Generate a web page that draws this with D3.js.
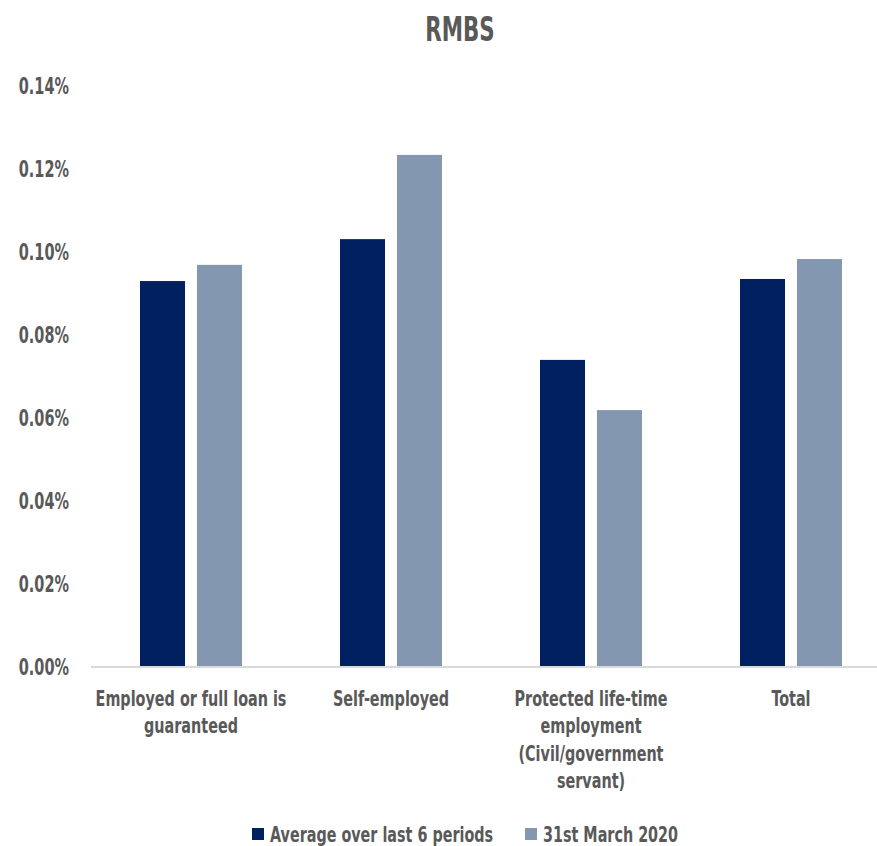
<!DOCTYPE html>
<html>
<head>
<meta charset="utf-8">
<script src="https://cdn.jsdelivr.net/npm/d3@7"></script>
<style>
  body { margin: 0; background: #fff; }
  svg text { font-family: "DejaVu Sans Condensed", "DejaVu Sans", sans-serif; font-weight: bold; fill: #595959; }
</style>
</head>
<body>
<svg></svg>
<script>
const WIDTH = 877;
const HEIGHT = 846;
const MARGINS = { left: 91, top: 86, right: -14, bottom: 179 };
const graphWidth = WIDTH - MARGINS.left - MARGINS.right;
const graphHeight = HEIGHT - MARGINS.top - MARGINS.bottom;

const categories = [
  ['Employed or full loan is', 'guaranteed'],
  ['Self-employed'],
  ['Protected life-time', 'employment', '(Civil/government', 'servant)'],
  ['Total']
];
const seriesNames = ['Average over last 6 periods', '31st March 2020'];
const average = [0.0930, 0.1031, 0.0740, 0.0935];
const march2020 = [0.0969, 0.1234, 0.0619, 0.0983];
const yTicks = [0, 0.02, 0.04, 0.06, 0.08, 0.10, 0.12, 0.14];
const COLORS = ['#002060', '#8497b0'];

const svg = d3.select('svg').attr('width', WIDTH).attr('height', HEIGHT);

// narrow, tall glyphs: squeeze DejaVu horizontally
svg.append('text')
  .attr('transform', 'translate(460, 41) scale(0.7, 1)')
  .attr('text-anchor', 'middle')
  .style('font-size', '34px')
  .text('RMBS');

const graph = svg.append('g')
  .attr('transform', `translate(${MARGINS.left}, ${MARGINS.top})`);

const y = d3.scaleLinear().domain([0, 0.14]).range([graphHeight, 0]);
const x0 = d3.scaleBand()
  .domain(d3.range(categories.length))
  .range([0, graphWidth])
  .paddingInner(0.49)
  .paddingOuter(0.245);
const x1 = d3.scaleBand()
  .domain(seriesNames)
  .range([0, x0.bandwidth()])
  .paddingInner(0.21);

const yAxis = d3.axisLeft(y)
  .tickValues(yTicks)
  .tickSize(0)
  .tickFormat((d) => d.toFixed(2) + '%');
const yAxisGroup = graph.append('g').call(yAxis);
yAxisGroup.select('.domain').remove();
yAxisGroup.selectAll('text')
  .attr('x', 0)
  .attr('transform', 'translate(-22, 0) scale(0.7, 1)')
  .style('font-size', '23px');

const rows = categories.map((c, i) => ({ i, values: [average[i], march2020[i]] }));

graph.selectAll('g.cat')
  .data(rows)
  .enter()
  .append('g')
  .attr('class', 'cat')
  .attr('transform', (d) => `translate(${x0(d.i)}, 0)`)
  .selectAll('rect')
  .data((d) => d.values.map((v, k) => ({ v, name: seriesNames[k], k })))
  .enter()
  .append('rect')
  .attr('x', (d) => x1(d.name))
  .attr('width', x1.bandwidth())
  .attr('y', (d) => y(d.v))
  .attr('height', (d) => graphHeight - y(d.v))
  .attr('fill', (d) => COLORS[d.k]);

graph.append('line')
  .attr('x1', 0).attr('x2', graphWidth)
  .attr('y1', graphHeight).attr('y2', graphHeight)
  .attr('stroke', '#d9d9d9')
  .attr('stroke-width', 2);

// category labels
const labels = graph.selectAll('text.cat')
  .data(categories)
  .enter()
  .append('text')
  .attr('class', 'cat')
  .attr('text-anchor', 'middle')
  .attr('transform', (d, i) =>
    `translate(${x0(i) + x0.bandwidth() / 2}, ${graphHeight + 39}) scale(0.727, 1)`)
  .style('font-size', '22px');
labels.selectAll('tspan')
  .data((d) => d)
  .enter()
  .append('tspan')
  .attr('x', 0)
  .attr('dy', (d, i) => (i === 0 ? 0 : 27.5))
  .text((d) => d);

// legend
const legendX = [252, 525];
const legend = svg.selectAll('g.legend')
  .data(seriesNames)
  .enter()
  .append('g')
  .attr('class', 'legend')
  .attr('transform', (d, i) => `translate(${legendX[i]}, 828)`);
legend.append('rect')
  .attr('width', 12).attr('height', 12)
  .attr('fill', (d, i) => COLORS[i]);
legend.append('text')
  .attr('transform', 'translate(18, 14) scale(0.76, 1)')
  .style('font-size', '21px')
  .text((d) => d);
</script>
</body>
</html>
